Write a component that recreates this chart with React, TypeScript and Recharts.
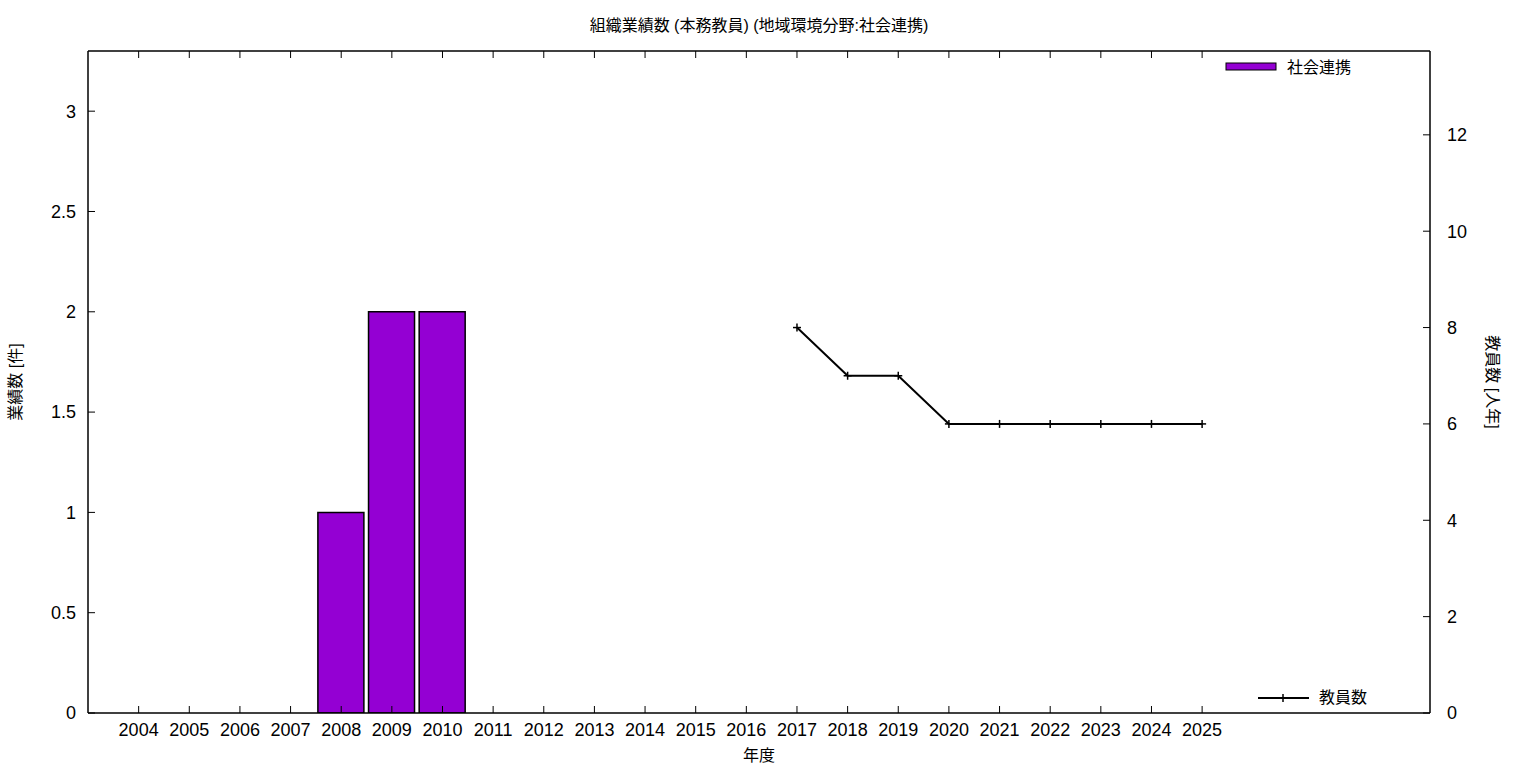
import { ComposedChart, Bar, Line, XAxis, YAxis } from 'recharts'

const years = [
  2004, 2005, 2006, 2007, 2008, 2009, 2010, 2011, 2012, 2013, 2014,
  2015, 2016, 2017, 2018, 2019, 2020, 2021, 2022, 2023, 2024, 2025,
]
const works = [0, 0, 0, 0, 1, 2, 2, 0, 0, 0, 0, 0, 0, 0, 0, 0, 0, 0, 0, 0, 0, 0]
const staff = [
  null, null, null, null, null, null, null, null, null, null, null,
  null, null, 8, 7, 7, 6, 6, 6, 6, 6, 6,
]
const leftTicks = [0, 0.5, 1, 1.5, 2, 2.5, 3]
const rightTicks = [0, 2, 4, 6, 8, 10, 12]

const data = years.map((y, i) => ({ year: y, works: works[i], staff: staff[i] }))

const FONT = '"Liberation Sans", "Noto Sans CJK JP", sans-serif'
const tickStyle = { fontSize: 18, fill: '#000', fontFamily: FONT }

function PlusDot(props: any) {
  const { cx, cy } = props
  if (cx == null || cy == null) return null
  return (
    <g stroke="#000" strokeWidth={1.5}>
      <line x1={cx - 4} y1={cy} x2={cx + 4} y2={cy} />
      <line x1={cx} y1={cy - 4} x2={cx} y2={cy + 4} />
    </g>
  )
}

const NoLabel = () => <g />

export default function App() {
  return (
    <div style={{ position: 'absolute', left: 0, top: 0, background: '#fff' }}>
      <ComposedChart
        width={1536}
        height={768}
        data={data}
        margin={{ top: 50, right: 0, bottom: 0, left: 0 }}
      >
        <XAxis
          dataKey="year"
          type="number"
          domain={[2003, 2029.5]}
          ticks={years}
          interval={0}
          height={55}
          allowDataOverflow
          tick={tickStyle}
          tickSize={-7}
          tickMargin={17}
          stroke="#000"
          axisLine={{ stroke: '#000', strokeWidth: 1.5 }}
        />
        <XAxis
          xAxisId="top"
          dataKey="year"
          type="number"
          orientation="top"
          domain={[2003, 2029.5]}
          ticks={years}
          interval={0}
          height={1}
          allowDataOverflow
          tick={<NoLabel />}
          tickLine={{ stroke: '#000' }}
          tickSize={-7}
          stroke="#000"
          axisLine={{ stroke: '#000', strokeWidth: 1.5 }}
        />
        <YAxis
          yAxisId="left"
          domain={[0, 3.3]}
          ticks={leftTicks}
          interval={0}
          width={88}
          allowDataOverflow
          tick={tickStyle}
          tickSize={-7}
          tickMargin={19}
          stroke="#000"
          axisLine={{ stroke: '#000', strokeWidth: 1.5 }}
        />
        <YAxis
          yAxisId="right"
          orientation="right"
          domain={[0, 13.74]}
          ticks={rightTicks}
          interval={0}
          width={106}
          allowDataOverflow
          tick={tickStyle}
          tickSize={-7}
          tickMargin={24}
          stroke="#000"
          axisLine={{ stroke: '#000', strokeWidth: 1.5 }}
        />
        <Bar
          yAxisId="left"
          dataKey="works"
          barSize={46}
          fill="#9400d3"
          stroke="#000"
          strokeWidth={1.5}
          isAnimationActive={false}
        />
        <Line
          yAxisId="right"
          dataKey="staff"
          stroke="#000"
          strokeWidth={2}
          dot={<PlusDot />}
          activeDot={false}
          isAnimationActive={false}
        />
        <Line
          xAxisId="top"
          yAxisId="right"
          dataKey="staff"
          stroke="none"
          dot={false}
          activeDot={false}
          legendType="none"
          isAnimationActive={false}
        />

        <text x={759} y={25} textAnchor="middle" dominantBaseline="central" fontSize={16} fontFamily={FONT} fill="#000">
          組織業績数 (本務教員) (地域環境分野:社会連携)
        </text>
        <text x={759} y={755} textAnchor="middle" dominantBaseline="central" fontSize={16} fontFamily={FONT} fill="#000">
          年度
        </text>
        <text
          x={15}
          y={382}
          textAnchor="middle"
          dominantBaseline="central"
          fontSize={16}
          fontFamily={FONT}
          fill="#000"
          transform="rotate(-90 15 382)"
        >
          業績数 [件]
        </text>
        <text
          x={1492}
          y={382}
          textAnchor="middle"
          dominantBaseline="central"
          fontSize={16}
          fontFamily={FONT}
          fill="#000"
          transform="rotate(90 1492 382)"
        >
          教員数 [人年]
        </text>

        <g>
          <rect x={1226} y={63} width={50} height={7} fill="#9400d3" stroke="#000" strokeWidth={1} />
          <text x={1287} y={67} dominantBaseline="central" fontSize={16} fontFamily={FONT} fill="#000">
            社会連携
          </text>
          <line x1={1258} y1={698} x2={1309} y2={698} stroke="#000" strokeWidth={2} />
          <line x1={1283} y1={694} x2={1283} y2={702} stroke="#000" strokeWidth={1.5} />
          <text x={1319} y={697} dominantBaseline="central" fontSize={16} fontFamily={FONT} fill="#000">
            教員数
          </text>
        </g>
      </ComposedChart>
    </div>
  )
}
